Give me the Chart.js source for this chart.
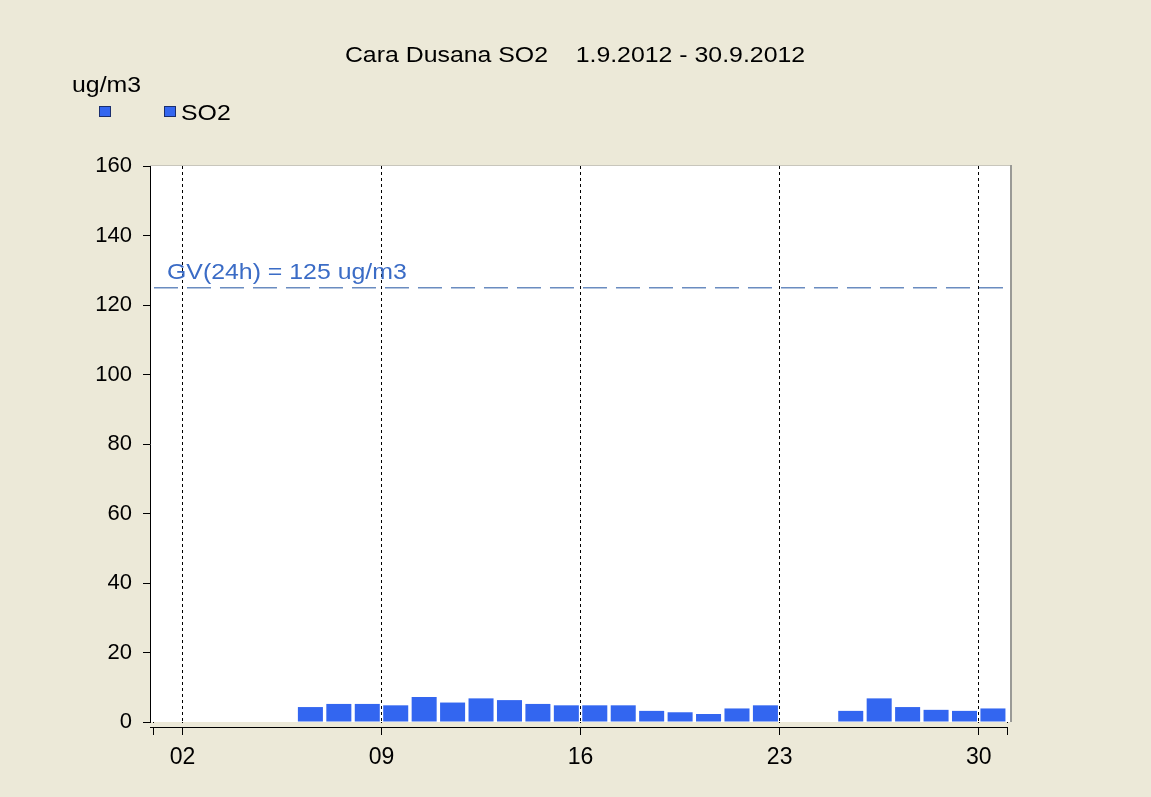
<!DOCTYPE html>
<html>
<head>
<meta charset="utf-8">
<script src="https://cdn.jsdelivr.net/npm/chart.js@4.4.1/dist/chart.umd.min.js"></script>
<style>
  html, body { margin: 0; padding: 0; background: #ECE9D8; }
  #wrap { width: 1151px; height: 797px; }
</style>
</head>
<body>
<div id="wrap"><canvas id="c" width="1151" height="797"></canvas></div>
<script>
// ---- data ----
const days = [1,2,3,4,5,6,7,8,9,10,11,12,13,14,15,16,17,18,19,20,21,22,23,24,25,26,27,28,29,30];
const so2Values = [null,null,null,null,null,4.3,5.2,5.2,4.8,7.2,5.6,6.8,6.3,5.2,4.8,4.8,4.8,3.2,2.8,2.3,3.9,4.8,null,null,3.2,6.8,4.3,3.5,3.2,3.9];
const xTickDays = [2, 9, 16, 23, 30];
const xTickLabels = ['02', '09', '16', '23', '30'];
const yTickValues = [0, 20, 40, 60, 80, 100, 120, 140, 160];
const gvLimit = 125;
const gvLabel = 'GV(24h) = 125 ug/m3';
const titleText = 'Cara Dusana SO2    1.9.2012 - 30.9.2012';
const unitText = 'ug/m3';
const seriesName = 'SO2';
const monthStart = 1, monthEnd = 31;

const BG = '#ECE9D8';
const BAR = '#3366F0';
const FONT = "'Liberation Sans', Arial, sans-serif";
const STRETCH = 1.13;

function stretchText(ctx, text, x, y, align) {
  ctx.save();
  ctx.translate(x, y);
  ctx.scale(STRETCH, 1);
  ctx.textAlign = align;
  ctx.textBaseline = 'alphabetic';
  ctx.fillText(text, 0, 0);
  ctx.restore();
}

const framePlugin = {
  id: 'frame',
  beforeDraw(chart) {
    const {ctx, chartArea: a} = chart;
    ctx.save();
    ctx.fillStyle = BG;
    ctx.fillRect(0, 0, chart.width, chart.height);
    ctx.fillStyle = '#FFFFFF';
    ctx.fillRect(a.left, a.top, a.right - a.left, a.bottom - a.top);
    ctx.strokeStyle = '#C8C6BC';
    ctx.lineWidth = 1;
    ctx.beginPath();
    ctx.moveTo(a.left, a.top - 0.5);
    ctx.lineTo(a.right + 0.5, a.top - 0.5);
    ctx.stroke();
    ctx.strokeStyle = '#9A9A96';
    ctx.lineWidth = 2;
    ctx.beginPath();
    ctx.moveTo(a.right + 1, a.top - 1);
    ctx.lineTo(a.right + 1, a.bottom);
    ctx.stroke();
    ctx.restore();
  },
  afterDraw(chart) {
    const {ctx, chartArea: a, scales} = chart;
    const xs = scales.x, ys = scales.y;
    ctx.save();
    // gap between plot and x axis
    ctx.fillStyle = BG;
    ctx.fillRect(a.left - 1, a.bottom + 1, a.right - a.left + 4, 4);
    // x axis line
    ctx.strokeStyle = '#000';
    ctx.lineWidth = 1;
    ctx.beginPath();
    ctx.moveTo(a.left, a.bottom + 5.5);
    ctx.lineTo(xs.getPixelForValue(monthEnd) + 0.5, a.bottom + 5.5);
    ctx.stroke();

    ctx.font = '22px ' + FONT;
    // GV label
    ctx.fillStyle = '#3B6CC6';
    stretchText(ctx, gvLabel, 167, ys.getPixelForValue(gvLimit) - 9, 'left');

    // title
    ctx.fillStyle = '#000';
    stretchText(ctx, titleText, 575, 62, 'center');

    // unit
    stretchText(ctx, unitText, 72, 92, 'left');

    // legend
    const drawBox = (x, y) => {
      ctx.fillStyle = BAR;
      ctx.fillRect(x, y, 12, 11);
      ctx.strokeStyle = '#1A2E6E';
      ctx.lineWidth = 1;
      ctx.strokeRect(x + 0.5, y + 0.5, 11, 10);
    };
    drawBox(99, 106);
    drawBox(164, 106);
    ctx.fillStyle = '#000';
    stretchText(ctx, seriesName, 181, 120, 'left');
    ctx.restore();
  }
};

const barData = days.map((d, i) => ({x: d + 0.5, y: so2Values[i]}));
const gvData = [{x: monthStart, y: gvLimit}, {x: monthEnd, y: gvLimit}];

Chart.defaults.font.family = FONT;
Chart.defaults.font.size = 22;
Chart.defaults.color = '#000';

new Chart(document.getElementById('c'), {
  type: 'bar',
  data: {
    datasets: [
      {
        type: 'bar',
        label: seriesName,
        data: barData,
        backgroundColor: BAR,
        borderWidth: 0,
        barPercentage: 0.88,
        categoryPercentage: 1.0,
        order: 2
      },
      {
        type: 'line',
        label: 'GV',
        data: gvData,
        borderColor: '#6A8CC0',
        borderWidth: 1.5,
        borderDash: [24, 9],
        pointRadius: 0,
        fill: false,
        order: 1
      }
    ]
  },
  options: {
    responsive: false,
    devicePixelRatio: 1,
    animation: false,
    layout: { padding: { top: 166, right: 141, left: 0, bottom: 0 } },
    plugins: { legend: { display: false }, tooltip: { enabled: false }, title: { display: false } },
    scales: {
      x: {
        type: 'linear',
        offset: false,
        min: monthStart - 0.14,
        max: monthEnd + 0.1,
        afterFit(s) { s.height = 797 - 722; },
        afterBuildTicks(s) {
          s.ticks = [monthStart, ...xTickDays, monthEnd].map(v => ({value: v}));
        },
        ticks: {
          autoSkip: false,
          maxRotation: 0,
          padding: 9,
          font: { size: 23 },
          callback(v) {
            const i = xTickDays.indexOf(v);
            return i >= 0 ? xTickLabels[i] : '';
          }
        },
        grid: {
          offset: false,
          drawOnChartArea: true,
          drawTicks: true,
          tickLength: 13,
          lineWidth: 1,
          color(ctx) { return ctx.tick && xTickDays.includes(ctx.tick.value) ? '#000' : 'rgba(0,0,0,0)'; },
          tickColor: '#000',
          tickWidth: 1
        },
        border: { display: false, dash: [3, 3] }
      },
      y: {
        type: 'linear',
        min: 0,
        max: 160,
        afterFit(s) { s.width = 150; },
        afterBuildTicks(s) { s.ticks = yTickValues.map(v => ({value: v})); },
        ticks: { padding: 11, font: { size: 22 } },
        grid: { drawOnChartArea: false, drawTicks: true, tickLength: 7, tickColor: '#000' },
        border: { display: true, color: '#000', width: 1 }
      }
    }
  },
  plugins: [framePlugin]
});
</script>
</body>
</html>
